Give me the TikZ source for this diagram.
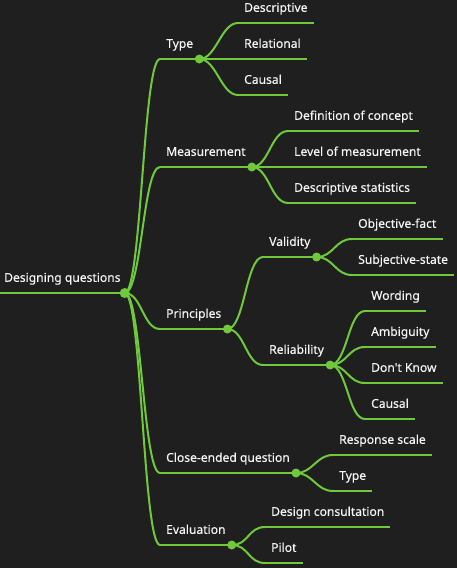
\documentclass[tikz,border=0pt]{standalone}
\usepackage{fontspec}
\setmainfont{Noto Sans}
\newfontfamily\mapfont{Noto Sans}[FakeBold=0.35]
\usepackage{xcolor}
\usepackage{tikz}
\definecolor{mapbg}{HTML}{1F1F1F}
\definecolor{mapgreen}{HTML}{6FC93B}
\definecolor{maptext}{HTML}{F4F4F4}

\tikzset{
  topic/.style={anchor=south west, text=maptext, font=\mapfont\fontsize{12.1}{14}\selectfont,
                inner xsep=6pt, inner ysep=7pt, text depth=4pt},
  branch/.style={draw=mapgreen, line width=2pt},
  knot/.style={fill=mapgreen}
}

\begin{document}
\begin{tikzpicture}[x=1pt, y=-1pt]
  \fill[mapbg] (0,0) rectangle (457,568);
  \useasboundingbox (0,0) rectangle (457,568);

  \node[topic, inner xsep=4pt] (root) at (0,293) {Designing questions};

  \node[topic] (type)      at (160,59)  {Type};
  \node[topic] (descr)     at (238,23)  {Descriptive};
  \node[topic] (relat)     at (238,59)  {Relational};
  \node[topic] (causal)    at (238,95)  {Causal};

  \node[topic] (measure)   at (160,167) {Measurement};
  \node[topic] (defcon)    at (288,131) {Definition of concept};
  \node[topic] (levmeas)   at (288,167) {Level of measurement};
  \node[topic] (descstat)  at (288,203) {Descriptive statistics};

  \node[topic] (princ)     at (160,329) {Principles};
  \node[topic] (valid)     at (263,257) {Validity};
  \node[topic] (objfact)   at (352,239) {Objective-fact};
  \node[topic] (subjstate) at (352,275) {Subjective-state};
  \node[topic] (reliab)    at (263,365) {Reliability};
  \node[topic] (wording)   at (365,311) {Wording};
  \node[topic] (ambig)     at (365,347) {Ambiguity};
  \node[topic] (dontknow)  at (365,383) {Don't Know};
  \node[topic] (causaltwo) at (365,419) {Causal};

  \node[topic] (closeq)    at (160,473) {Close-ended question};
  \node[topic] (respscale) at (333,455) {Response scale};
  \node[topic] (qtype)     at (333,491) {Type};

  \node[topic] (evalu)     at (160,545) {Evaluation};
  \node[topic] (designc)   at (265,527) {Design consultation};
  \node[topic] (pilot)     at (265,563) {Pilot};

  % underlines
  \foreach \n in {root, type, descr, relat, causal, measure, defcon, levmeas, descstat,
                  princ, valid, objfact, subjstate, reliab, wording, ambig, dontknow,
                  causaltwo, closeq, respscale, qtype, evalu, designc, pilot}
    \draw[branch] (\n.south west) -- (\n.south east);

  % links
  \foreach \p/\c in {root/type, root/measure, root/princ, root/closeq, root/evalu,
                     type/descr, type/relat, type/causal,
                     measure/defcon, measure/levmeas, measure/descstat,
                     princ/valid, princ/reliab,
                     valid/objfact, valid/subjstate,
                     reliab/wording, reliab/ambig, reliab/dontknow, reliab/causaltwo,
                     closeq/respscale, closeq/qtype,
                     evalu/designc, evalu/pilot}
    \draw[branch] (\p.south east) .. controls +(17,0) and +(-17,0) .. (\c.south west);

  % dots
  \foreach \n in {type, measure, princ, valid, reliab, closeq, evalu}
    \fill[knot] (\n.south east) circle (4.5);
  \fill[knot] (root.south east) circle (5);
\end{tikzpicture}
\end{document}
